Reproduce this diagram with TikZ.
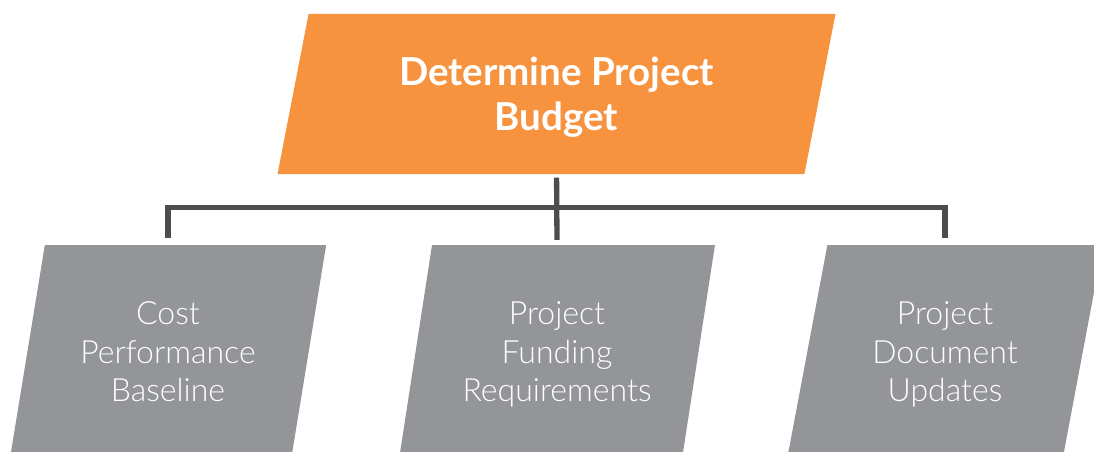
\documentclass[tikz,border=0pt]{standalone}
\usepackage{fontspec}
\setmainfont{Lato}
\newfontfamily\lightfont{Lato Light}
\usetikzlibrary{positioning,shapes.geometric}
\definecolor{budgetorange}{HTML}{F7923F}
\definecolor{outgray}{HTML}{939598}
\definecolor{linkgray}{HTML}{4D4D4F}
\tikzset{
budgetbox/.style={trapezium, trapezium left angle=75, trapezium right angle=105, trapezium stretches=true, fill=budgetorange, text=white, align=center, minimum width=558pt, minimum height=160pt, inner sep=0pt, text depth=0pt, font=\fontsize{38.5}{45}\selectfont\bfseries},
outbox/.style={trapezium, trapezium left angle=76, trapezium right angle=104, trapezium stretches=true, fill=outgray, text=white, align=center, minimum width=316.5pt, minimum height=214pt, inner sep=0pt, text depth=0pt, font=\fontsize{32}{38.5}\selectfont\lightfont},
link/.style={draw=linkgray, line width=5.3pt}
}
\begin{document}
\begin{tikzpicture}[x=1pt,y=-1pt]
  \useasboundingbox (0,0) rectangle (1094,452);
  \node[budgetbox] (budget) at (556.5,94) {Determine Project\\Budget};
  \node[outbox] (baseline) at (168,352) {Cost\\Performance\\Baseline};
  \node[outbox] (funding) at (557,352) {Project\\Funding\\Requirements};
  \node[outbox] (updates) at (945,352) {Project\\Document\\Updates};
  \coordinate (split) at (556.5,207.5);
  \draw[link, shorten <=3.5pt, shorten >=5pt] (budget.south) -- (funding.north);
  \draw[link, shorten <=7pt, shorten >=7pt] (baseline.north) |- (split) -| (updates.north);
\end{tikzpicture}
\end{document}
